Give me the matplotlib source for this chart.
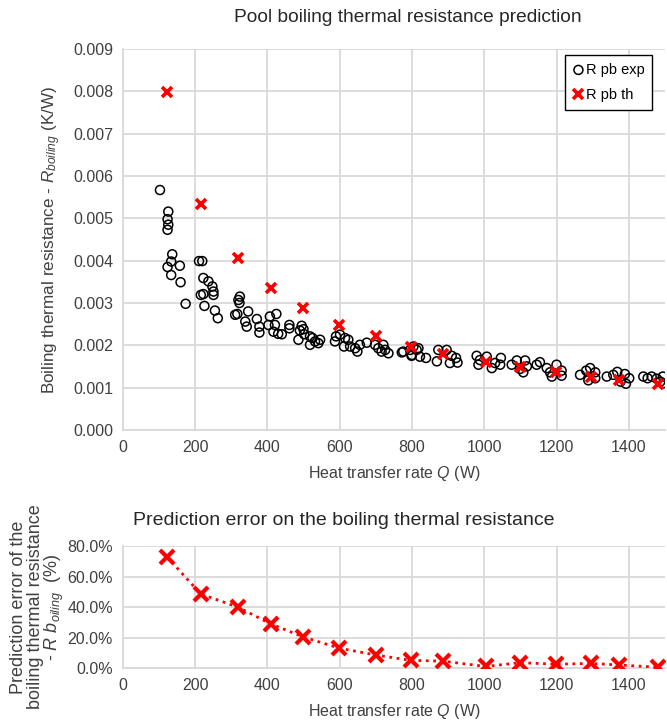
import numpy as np
import matplotlib
matplotlib.use('Agg')
import matplotlib.pyplot as plt
from matplotlib.ticker import MultipleLocator, PercentFormatter

plt.rcParams['font.family'] = ['Liberation Sans', 'DejaVu Sans']
plt.rcParams['mathtext.fontset'] = 'custom'
plt.rcParams['mathtext.it'] = 'Liberation Sans:italic'
plt.rcParams['mathtext.rm'] = 'Liberation Sans'

# Experimental pool boiling resistance (W, K/W)
q_exp = [103, 126, 124, 126, 124, 137, 134, 124, 158, 134, 160, 174,
         211, 220, 223, 237, 248, 251, 216, 223, 251, 226, 255, 263,
         324, 320, 323, 311, 317, 347, 339, 343, 371, 378, 378,
         407, 425, 403, 421, 417, 430, 440, 461, 461,
         495, 500, 490, 502, 486, 518, 525, 532, 546, 518, 541,
         590, 601, 587, 615, 624, 612, 629, 643, 649, 656, 675,
         698, 707, 721, 726, 735, 716, 772, 795, 800, 813,
         776, 818, 822, 839, 799, 804,
         873, 869, 896, 910, 922, 926, 905,
         979, 988, 984, 1007, 1021, 1030, 1046, 1044,
         1076, 1090, 1099, 1113, 1118, 1108, 1145, 1154, 1173,
         1182, 1200, 1214, 1214, 1187,
         1265, 1282, 1293, 1307, 1307, 1288,
         1339, 1357, 1368, 1389, 1401, 1392, 1377,
         1440, 1452, 1463, 1477, 1494, 1495, 1487]
r_exp = [0.00567, 0.00516, 0.00498, 0.00485, 0.00473, 0.00415, 0.00398, 0.00385, 0.00388, 0.00366, 0.00349, 0.00298,
         0.00399, 0.00399, 0.00359, 0.00351, 0.00339, 0.00327, 0.00319, 0.00321, 0.00319, 0.00293, 0.00282, 0.00264,
         0.00315, 0.00307, 0.00300, 0.00272, 0.00274, 0.00280, 0.00256, 0.00244, 0.00262, 0.00244, 0.00230,
         0.00268, 0.00274, 0.00248, 0.00248, 0.00232, 0.00227, 0.00226, 0.00248, 0.00240,
         0.00246, 0.00238, 0.00235, 0.00226, 0.00213, 0.00221, 0.00217, 0.00209, 0.00213, 0.00201, 0.00205,
         0.00221, 0.00225, 0.00209, 0.00217, 0.00213, 0.00197, 0.00197, 0.00193, 0.00185, 0.00201, 0.00206,
         0.00201, 0.00193, 0.00201, 0.00189, 0.00181, 0.00185, 0.00183, 0.00189, 0.00177, 0.00189,
         0.00185, 0.00193, 0.00173, 0.00170, 0.00175, 0.00197,
         0.00189, 0.00162, 0.00189, 0.00175, 0.00170, 0.00159, 0.00158,
         0.00175, 0.00165, 0.00154, 0.00173, 0.00146, 0.00158, 0.00170, 0.00154,
         0.00154, 0.00164, 0.00144, 0.00164, 0.00150, 0.00136, 0.00154, 0.00160, 0.00146,
         0.00136, 0.00154, 0.00140, 0.00128, 0.00126,
         0.00130, 0.00140, 0.00146, 0.00136, 0.00122, 0.00117,
         0.00126, 0.00130, 0.00137, 0.00132, 0.00122, 0.00109, 0.00114,
         0.00126, 0.00122, 0.00126, 0.00121, 0.00126, 0.00110, 0.00114]

# Predicted resistance and prediction error
q_th = [122, 216, 318, 409, 498, 599, 701, 797, 887, 1004, 1099, 1199, 1295, 1372, 1482]
r_th = [0.00798, 0.00534, 0.00406, 0.00335, 0.00288, 0.00247, 0.00221, 0.00197,
        0.00180, 0.00160, 0.00148, 0.00136, 0.00126, 0.00118, 0.00109]
err = [73.0, 48.5, 40.0, 29.0, 20.5, 13.0, 8.5, 5.0, 4.5, 1.0, 3.5, 2.5, 3.0, 2.0, 0.5]

grid_c = '#d9d9d9'
txt_c = '#404040'

fig = plt.figure(figsize=(6.67, 7.2), dpi=100)


def style(ax):
    ax.set_xlim(0, 1500)
    ax.xaxis.set_major_locator(MultipleLocator(200))
    ax.grid(True, color=grid_c, linewidth=1.3)
    ax.set_axisbelow(True)
    for s in ['top', 'right']:
        ax.spines[s].set_visible(False)
    for s in ['left', 'bottom']:
        ax.spines[s].set_color(grid_c)
        ax.spines[s].set_linewidth(1.3)
    ax.tick_params(length=0, labelsize=11.5, labelcolor=txt_c, pad=7)


# Top chart
ax1 = fig.add_axes([0.184, 0.403, 0.813, 0.5287])
style(ax1)
ax1.set_ylim(0, 0.009)
ax1.yaxis.set_major_locator(MultipleLocator(0.001))
ax1.yaxis.set_major_formatter(lambda v, p: f'{v:.3f}')
ax1.scatter(q_exp, r_exp, s=42, facecolors='none', edgecolors='black', linewidths=1.1,
            label='R pb exp', zorder=3)
ax1.plot(q_th, r_th, 'x', color='red', markersize=7.5, mew=2.6, label='R pb th', zorder=4)
ax1.set_ylabel(r'Boiling thermal resistance - $\mathit{R}_{\mathit{boiling}}$ (K/W)',
               fontsize=12.3, color=txt_c, labelpad=7)
ax1.set_xlabel(r'Heat transfer rate $\mathit{Q}$ (W)', fontsize=11.5, color=txt_c, labelpad=7)
leg = ax1.legend(loc='upper right', bbox_to_anchor=(0.985, 0.995), fontsize=10.5,
                 fancybox=False, edgecolor='black', framealpha=1, handletextpad=0.1,
                 handlelength=0.9, borderpad=0.5, labelspacing=0.8, borderaxespad=0.3)
leg.get_frame().set_linewidth(1.0)
fig.text(0.612, 0.975, 'Pool boiling thermal resistance prediction', ha='center', va='center',
         fontsize=13.8, color='#262626')

# Bottom chart
ax2 = fig.add_axes([0.184, 0.0722, 0.813, 0.1694])
style(ax2)
ax2.set_ylim(0, 80)
ax2.yaxis.set_major_locator(MultipleLocator(20))
ax2.yaxis.set_major_formatter(PercentFormatter(decimals=1))
ax2.plot(q_th, err, ':', color='red', linewidth=2, marker='x', markersize=10, mew=3, zorder=4)
ax2.set_xlabel(r'Heat transfer rate $\mathit{Q}$ (W)', fontsize=11.5, color=txt_c, labelpad=7)
ax2.set_ylabel('Prediction error of the\nboiling thermal resistance\n'
               r'- $\mathit{R}$ $\mathit{b}_{\mathit{oiling}}$  (%)',
               fontsize=13, color=txt_c, labelpad=1, linespacing=0.95)
fig.text(0.515, 0.277, 'Prediction error on the boiling thermal resistance', ha='center', va='center',
         fontsize=14, color='#262626')

fig.savefig('out.png', dpi=100)
